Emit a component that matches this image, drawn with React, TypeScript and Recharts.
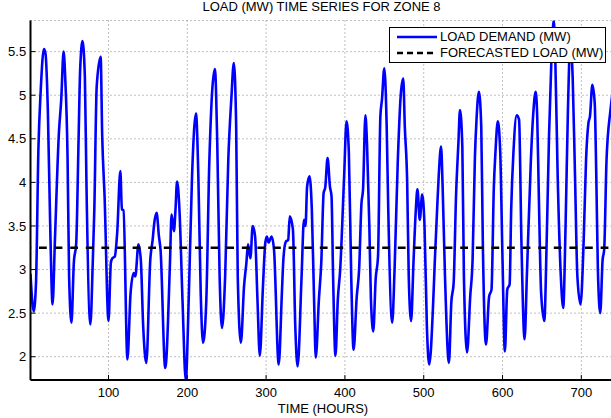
import { CartesianGrid, Line, LineChart, XAxis, YAxis } from 'recharts'

// hourly load for zone 8 at turning points
const hours = [
  1, 5, 8, 11, 14, 18, 20, 23, 26, 29, 32, 37, 40, 43, 45, 48, 50, 53, 56, 59, 62, 64, 67, 70, 72, 77,
  80, 82, 85, 90, 92, 95, 100, 103, 105, 108, 111, 115, 117, 119, 124, 128, 132, 134, 138, 141, 144, 148,
  153, 156, 158, 161, 164, 166, 172, 178, 180, 183, 185, 187, 190, 194, 198, 202, 206, 211, 214, 217, 220,
  224, 228, 235, 238, 241, 244, 248, 252, 256, 259, 262, 264, 268, 272, 275, 277, 280, 283, 286, 289, 292,
  296, 299, 301, 303, 307, 310, 316, 320, 322, 325, 328, 330, 334, 337, 340, 345, 348, 350, 352, 355, 358,
  361, 363, 367, 370, 373, 375, 378, 381, 383, 385, 388, 391, 394, 399, 402, 405, 408, 411, 415, 418, 421,
  423, 426, 428, 431, 433, 436, 439, 442, 445, 447, 450, 453, 455, 460, 463, 467, 471, 474, 476, 479, 481,
  484, 487, 490, 492, 495, 498, 501, 504, 507, 512, 514, 517, 519, 522, 524, 527, 532, 535, 538, 541, 544,
  546, 549, 551, 555, 559, 562, 565, 567, 570, 573, 575, 579, 583, 586, 589, 591, 594, 597, 600, 603, 606,
  609, 611, 614, 618, 621, 624, 628, 631, 636, 639, 642, 644, 646, 649, 653, 656, 659, 662, 665, 667, 670,
  674, 677, 680, 683, 686, 689, 692, 695, 699, 703, 706, 709, 711, 714, 717, 719, 721, 724, 727, 729, 732,
  737, 740, 744,
]
const loadMw = [
  2.95, 2.52, 2.85, 4.37, 5.06, 5.53, 5.48, 4.83, 3.5, 2.6, 3.34, 4.56, 4.95, 5.5, 5.21, 4.3, 2.92, 2.39,
  3.08, 3.3, 4.49, 5.29, 5.62, 5.21, 3.99, 2.37, 3.08, 3.69, 5.1, 5.44, 4.53, 3.84, 2.41, 3.08, 3.13, 3.15,
  3.42, 4.13, 3.69, 3.68, 1.97, 2.73, 2.96, 2.92, 3.29, 3.11, 2.35, 1.93, 3.11, 3.34, 3.53, 3.65, 3.38, 3.23,
  1.87, 3.08, 3.63, 3.44, 3.69, 4.01, 3.69, 2.62, 1.73, 2.73, 4.07, 4.79, 4.07, 2.73, 2.16, 2.62, 4.26, 5.3,
  4.45, 2.92, 2.33, 2.92, 4.26, 4.98, 5.37, 4.64, 2.92, 2.16, 2.81, 3.08, 3.29, 3.13, 3.5, 3.38, 2.66, 2.01,
  2.81, 3.31, 3.38, 3.31, 3.38, 3.23, 1.91, 2.73, 3.13, 3.32, 3.34, 3.61, 3.46, 2.35, 1.89, 2.92, 3.57, 3.5,
  3.95, 4.07, 3.69, 2.6, 1.99, 2.66, 3.08, 3.88, 3.94, 4.28, 3.95, 3.84, 2.92, 2.01, 2.66, 3.0, 4.07, 4.7,
  4.34, 2.92, 2.08, 2.69, 3.0, 3.76, 3.92, 4.77, 4.45, 3.5, 2.66, 2.29, 2.89, 3.15, 4.76, 4.95, 5.31, 4.64,
  3.69, 2.39, 3.0, 4.22, 5.02, 5.19, 4.64, 4.0, 2.92, 2.41, 3.08, 3.69, 3.92, 3.57, 3.86, 3.5, 2.35, 1.91,
  2.62, 3.08, 3.69, 4.07, 4.41, 3.95, 2.92, 1.93, 2.62, 2.85, 3.84, 4.45, 4.83, 4.41, 2.92, 2.05, 2.69, 3.11,
  4.3, 4.72, 5.04, 4.64, 3.31, 2.14, 2.69, 2.77, 3.95, 4.34, 4.7, 4.37, 3.11, 2.06, 2.77, 2.83, 3.69, 4.37,
  4.77, 4.72, 3.31, 2.2, 2.96, 4.26, 4.79, 5.04, 4.76, 3.88, 2.73, 2.41, 3.31, 4.53, 5.4, 5.86, 5.4, 4.07,
  2.92, 2.56, 3.5, 4.83, 5.6, 5.21, 4.07, 2.92, 2.6, 3.34, 4.26, 4.68, 4.76, 5.12, 4.91, 4.07, 3.0, 2.5,
  3.11, 3.23, 4.26, 4.83, 5.05, 5.2,
]
const FORECAST_MW = 3.25

const xTicks = [100, 200, 300, 400, 500, 600, 700]
const yTicks = [2, 2.5, 3, 3.5, 4, 4.5, 5, 5.5]
const seriesNames = ['LOAD DEMAND (MW)', 'FORECASTED LOAD (MW)']
const title = 'LOAD (MW) TIME SERIES FOR ZONE 8'
const xLabel = 'TIME (HOURS)'

const data = hours.map((hour, i) => ({ hour, load: loadMw[i], forecast: FORECAST_MW }))

const FONT = '"Liberation Sans", Arial, Helvetica, sans-serif'
const BLUE = '#0000ff'
const DASH = '7.8 7.8'

function BottomTick({ x, y, payload }: any) {
  return (
    <g>
      <line x1={x} x2={x} y1={y} y2={y - 5} stroke="#000" />
      <text x={x} y={y + 16.7} textAnchor="middle" fontSize={13} fontFamily={FONT} fill="#000">
        {payload.value}
      </text>
    </g>
  )
}

function TopTick({ x, y }: any) {
  return <line x1={x} x2={x} y1={y} y2={y + 5} stroke="#000" />
}

function LeftTick({ x, y, payload }: any) {
  return (
    <g>
      <line x1={x} x2={x + 5} y1={y} y2={y} stroke="#000" />
      <text x={x - 4.3} y={y + 4.7} textAnchor="end" fontSize={13} fontFamily={FONT} fill="#000">
        {payload.value}
      </text>
    </g>
  )
}

function LegendBox() {
  const rows = [
    { name: seriesNames[0], color: BLUE, dash: undefined },
    { name: seriesNames[1], color: '#000', dash: '6 4' },
  ]
  return (
    <div
      style={{
        position: 'absolute',
        left: 389,
        top: 26.5,
        width: 217,
        height: 36,
        border: '1px solid #000',
        background: '#fff',
        boxSizing: 'border-box',
      }}
    >
      {rows.map((r, i) => (
        <div key={r.name} style={{ position: 'absolute', left: 0, top: i === 0 ? 1 : 17, height: 16, width: '100%' }}>
          <svg width={42} height={16} style={{ position: 'absolute', left: 7, top: 0 }}>
            <line x1={0} x2={40} y1={8} y2={8} stroke={r.color} strokeWidth={2.5} strokeDasharray={r.dash} />
          </svg>
          <span
            style={{
              position: 'absolute',
              left: 50,
              top: 0,
              lineHeight: '16px',
              fontSize: 13,
              whiteSpace: 'nowrap',
              color: '#000',
            }}
          >
            {r.name}
          </span>
        </div>
      ))}
    </div>
  )
}

export default function App() {
  return (
    <div
      style={{
        position: 'absolute',
        left: 0,
        top: 0,
        width: 611,
        height: 418,
        overflow: 'hidden',
        background: '#fff',
        fontFamily: FONT,
      }}
    >
      <div
        style={{
          position: 'absolute',
          left: 0,
          top: 0,
          width: 643,
          textAlign: 'center',
          fontSize: 13,
          lineHeight: '13px',
          whiteSpace: 'nowrap',
        }}
      >
        {title}
      </div>

      <div style={{ position: 'absolute', left: 0, top: 0 }}>
        <LineChart width={640} height={418} data={data} margin={{ top: 20.5, right: 24, bottom: 0, left: 0 }}>
          <CartesianGrid stroke="#808080" strokeDasharray="1 3" />
          <XAxis
            dataKey="hour"
            type="number"
            domain={[1, 744]}
            ticks={xTicks}
            height={38}
            tickSize={0}
            tickMargin={0}
            tick={<BottomTick />}
            axisLine={{ stroke: '#000', strokeWidth: 2 }}
            allowDataOverflow
          />
          <XAxis
            xAxisId="top"
            orientation="top"
            dataKey="hour"
            type="number"
            domain={[1, 744]}
            ticks={xTicks}
            height={0}
            tickSize={0}
            tickMargin={0}
            tick={<TopTick />}
            axisLine={{ stroke: '#000', strokeWidth: 2 }}
          />
          <YAxis
            type="number"
            domain={[1.733, 5.857]}
            ticks={yTicks}
            width={30.5}
            tickSize={0}
            tickMargin={0}
            tick={<LeftTick />}
            axisLine={{ stroke: '#000', strokeWidth: 2 }}
            allowDataOverflow
          />
          <Line
            type="monotone"
            dataKey="load"
            stroke={BLUE}
            strokeWidth={2.6}
            dot={false}
            isAnimationActive={false}
          />
          <Line
            type="linear"
            dataKey="forecast"
            stroke="#000"
            strokeWidth={2.5}
            strokeDasharray={DASH}
            strokeDashoffset={7.1}
            dot={false}
            isAnimationActive={false}
          />
        </LineChart>
      </div>

      <LegendBox />

      <div
        style={{
          position: 'absolute',
          left: 0,
          top: 402.3,
          width: 646,
          textAlign: 'center',
          fontSize: 13,
          lineHeight: '13px',
          whiteSpace: 'nowrap',
        }}
      >
        {xLabel}
      </div>
    </div>
  )
}
